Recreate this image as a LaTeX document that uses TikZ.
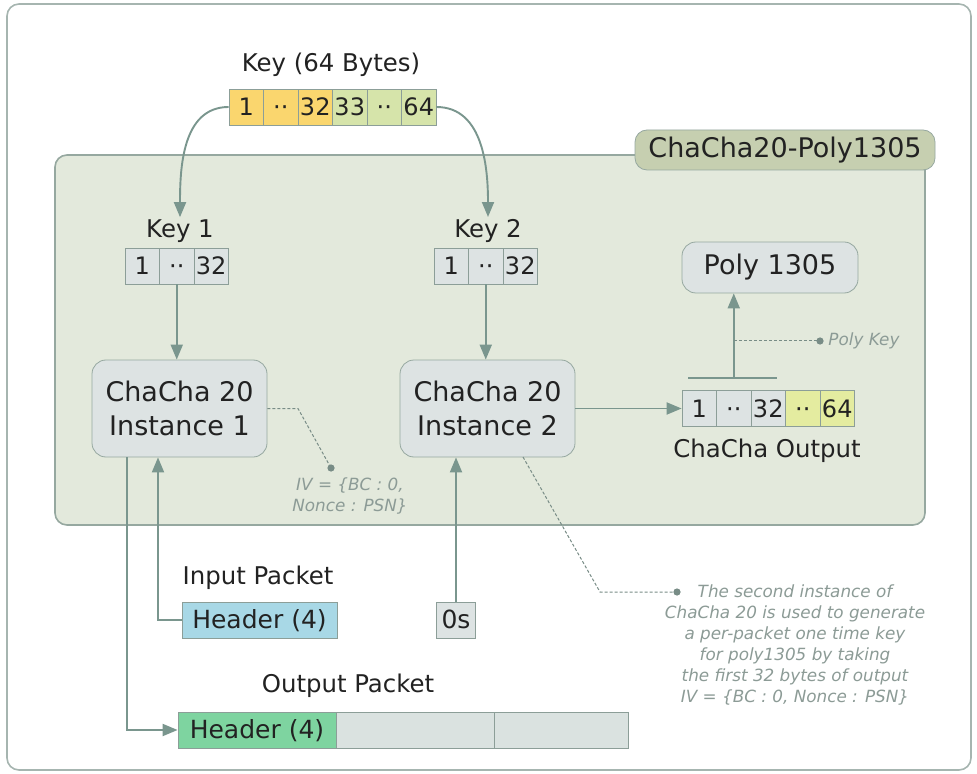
\documentclass[tikz,border=0pt]{standalone}
\usepackage{fontspec}
\setmainfont{DejaVu Sans}
\usetikzlibrary{arrows.meta}

\definecolor{framec}{RGB}{166,181,176}
\definecolor{panelfill}{RGB}{227,233,220}
\definecolor{panelline}{RGB}{150,168,160}
\definecolor{tagfill}{RGB}{198,207,176}
\definecolor{cellgrey}{RGB}{221,227,227}
\definecolor{cellline}{RGB}{140,158,152}
\definecolor{keyyellow}{RGB}{250,214,110}
\definecolor{keygreen}{RGB}{214,228,170}
\definecolor{outyellow}{RGB}{228,236,160}
\definecolor{inblue}{RGB}{168,216,230}
\definecolor{outgreen}{RGB}{126,212,160}
\definecolor{pktgrey}{RGB}{218,226,224}
\definecolor{arrowc}{RGB}{122,150,142}
\definecolor{txt}{RGB}{34,34,34}
\definecolor{notec}{RGB}{120,140,134}
\definecolor{notetext}{RGB}{140,155,150}

\tikzset{
  cell/.style={draw=cellline, fill=cellgrey, minimum width=17.25pt, minimum height=18pt,
    inner sep=0pt, text height=8.8pt, text depth=0pt, text=txt, font=\fontsize{12}{14}\selectfont},
  lbl/.style={inner sep=1pt, text=txt, font=\fontsize{12.2}{14}\selectfont},
  engine/.style={draw=panelline, fill=cellgrey, rounded corners=7pt, align=center,
    text=txt, font=\fontsize{13.5}{17}\selectfont},
  flow/.style={draw=arrowc, line width=0.95pt},
  note/.style={draw=notec, line width=0.5pt, dash pattern=on 1.5pt off 1pt},
  notetxt/.style={text=notetext, align=center, inner sep=1pt,
    font=\itshape\fontsize{8.4}{10.5}\selectfont}
}

\begin{document}
\begin{tikzpicture}[x=0.5pt,y=-0.5pt,>={Triangle[length=7.5pt,width=6pt]}]
\useasboundingbox (0,0) rectangle (977,774);
% frame and panel
\draw[framec, line width=0.8pt, fill=white, rounded corners=6pt] (7,4) rectangle (971,770);
\draw[panelline, line width=0.8pt, fill=panelfill, rounded corners=6pt] (55,155) rectangle (925,525);
\node[draw=panelline, fill=tagfill, rounded corners=6pt, minimum width=150pt, minimum height=20pt,
  inner sep=0pt, text=txt, font=\fontsize{13.5}{16}\selectfont] (tag) at (785,150) {ChaCha20-Poly1305};

% 64 byte key
\node[lbl] (keylbl) at (331,65) {Key (64 Bytes)};
\node[cell, fill=keyyellow] (k1) at (246.25,107) {1};
\node[cell, fill=keyyellow] (k2) at (280.75,107) {··};
\node[cell, fill=keyyellow] (k3) at (315.25,107) {32};
\node[cell, fill=keygreen] (k4) at (349.75,107) {33};
\node[cell, fill=keygreen] (k5) at (384.25,107) {··};
\node[cell, fill=keygreen] (k6) at (418.75,107) {64};

% key halves
\node[lbl] (key1lbl) at (180,231) {Key 1};
\node[cell] (ka1) at (142.25,266) {1};
\node[cell] (ka2) at (176.75,266) {··};
\node[cell] (ka3) at (211.25,266) {32};
\node[lbl] (key2lbl) at (488,231) {Key 2};
\node[cell] (kb1) at (451.25,266) {1};
\node[cell] (kb2) at (485.75,266) {··};
\node[cell] (kb3) at (520.25,266) {32};

\draw[flow,->] (k1.west) to[out=180,in=90] (key1lbl.north);
\draw[flow,->] (k6.east) to[out=0,in=90] (key2lbl.north);

% chacha instances
\node[engine, minimum width=87.5pt, minimum height=48.5pt] (cc1) at (179.5,408.5) {ChaCha 20\\Instance 1};
\node[engine, minimum width=87.5pt, minimum height=48.5pt] (cc2) at (487.5,408.5) {ChaCha 20\\Instance 2};
\draw[flow,->] (ka2.south) -- (ka2.south |- cc1.north);
\draw[flow,->] (kb2.south) -- (kb2.south |- cc2.north);

% chacha output
\node[cell] (o1) at (699.25,408.5) {1};
\node[cell] (o2) at (733.75,408.5) {··};
\node[cell] (o3) at (768.25,408.5) {32};
\node[cell, fill=outyellow] (o4) at (802.75,408.5) {··};
\node[cell, fill=outyellow] (o5) at (837.25,408.5) {64};
\node[lbl] (outlbl) at (767,451) {ChaCha Output};
\draw[flow,->] (cc2.east) -- (o1.west);

% poly 1305
\node[engine, minimum width=88pt, minimum height=25.5pt] (poly) at (770,267.5) {Poly 1305};
\coordinate (brk) at (733.75,378);
\draw[flow] (688,378) -- (777,378);
\draw[flow,->] (brk) -- (brk |- poly.south);
\coordinate (pk) at (820,341);
\draw[note] (733.75,341) -- (pk);
\fill[notec] (pk) circle (1.8pt);
\node[notetxt, anchor=west] (pklbl) at (826,341) {Poly Key};

% iv note
\coordinate (iv) at (331,468);
\draw[note] (cc1.east) -- (298,408.5) -- (iv);
\fill[notec] (iv) circle (1.8pt);
\node[notetxt] (ivlbl) at (350,496) {IV = \{BC : 0,\\Nonce : PSN\}};

% second instance note
\coordinate (sn) at (677,592);
\draw[note] (523,457) -- (600,592) -- (sn);
\fill[notec] (sn) circle (1.8pt);
\node[notetxt] (snlbl) at (795,645) {The second instance of\\ChaCha 20 is used to generate\\a per-packet one time key\\for poly1305 by taking\\the first 32 bytes of output\\IV = \{BC : 0, Nonce : PSN\}};

% packets
\node[lbl] (inlbl) at (258,578) {Input Packet};
\node[cell, fill=inblue, minimum width=77.5pt, font=\fontsize{12.5}{14}\selectfont] (inhdr) at (259.5,620) {Header (4)};
\node[cell, minimum width=19.5pt, font=\fontsize{12.5}{14}\selectfont] (zero) at (456,620) {0s};
\node[lbl] (outpkt) at (348,686) {Output Packet};
\node[cell, fill=outgreen, minimum width=79pt, font=\fontsize{12.5}{14}\selectfont] (ohdr) at (257,730) {Header (4)};
\node[cell, fill=pktgrey, minimum width=79pt] (obody) at (415,730) {};
\node[cell, fill=pktgrey, minimum width=67pt] (otail) at (561,730) {};

\draw[flow,->] (inhdr.west) -| ([xshift=-10.75pt]cc1.south);
\draw[flow,->] ([xshift=-26.25pt]cc1.south) |- (ohdr.west);
\draw[flow,->] (zero.north) -- (zero.north |- cc2.south);
\end{tikzpicture}
\end{document}
